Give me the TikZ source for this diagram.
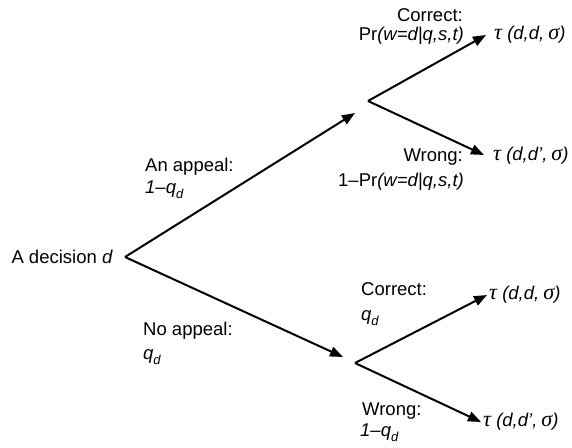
\documentclass[tikz,border=0pt]{standalone}
\usepackage{fontspec}
\setmainfont{Liberation Sans}
\newfontfamily\grk{Liberation Serif}[Scale=1.2]
\usetikzlibrary{arrows.meta}
\newcommand{\sub}[1]{\raisebox{-5pt}{\fontsize{13}{13}\selectfont\itshape #1}}
\newcommand{\tlab}[1]{\textit{{\grk\itshape τ} (d,#1,\hspace{4pt}{\grk\itshape σ})}}
\tikzset{
  arr/.style={line width=2pt, -{Triangle[length=13pt,width=10pt]}},
  lab/.style={inner sep=0pt, font=\fontsize{18.5}{21}\selectfont},
}
\begin{document}
\begin{tikzpicture}[x=1pt,y=-1pt]
\useasboundingbox (0,0) rectangle (572,447);
% vertices and tips
\coordinate (r) at (125,257);
\coordinate (tA) at (355,113);
\coordinate (vA) at (368,101);
\coordinate (tB) at (343,357);
\coordinate (vB) at (355,363);
\coordinate (tAA) at (486,35);
\coordinate (tAB) at (484,155);
\coordinate (tBA) at (487,295);
\coordinate (tBB) at (481,422);
% root node
\node[lab, anchor=base east] (root) at (113,263) {A decision \textit{d}};
% outcome nodes
\node[lab, anchor=west] (oAA) at (494,35) {\tlab{d}};
\node[lab, anchor=west] (oAB) at (493,156) {\tlab{d'}};
\node[lab, anchor=west] (oBA) at (489,295) {\tlab{d}};
\node[lab, anchor=west] (oBB) at (483,422) {\tlab{d'}};
% connectors
\draw[arr] (r) -- (tA);
\draw[arr] (r) -- (tB);
\draw[arr] (vA) -- (tAA);
\draw[arr] (vA) -- (tAB);
\draw[arr] (vB) -- (tBA);
\draw[arr] (vB) -- (tBB);
% labels
\node[lab, anchor=base east] (lc1) at (463,21) {Correct:};
\node[lab, anchor=base east] (lc2) at (464,40) {Pr\textit{(w=d|q,s,t)}};
\node[lab, anchor=base east] (lw1) at (463,161) {Wrong:};
\node[lab, anchor=base east] (lw2) at (464,186) {1–Pr\textit{(w=d|q,s,t)}};
\node[lab, anchor=base west] (la1) at (145,171) {An appeal:};
\node[lab, anchor=base west] (la2) at (145,193) {\textit{1–q}\sub{d}};
\node[lab, anchor=base west] (ln1) at (143,335) {No appeal:};
\node[lab, anchor=base west] (ln2) at (143,359) {\textit{q}\sub{d}};
\node[lab, anchor=base west] (lbc1) at (361,295) {Correct:};
\node[lab, anchor=base west] (lbc2) at (361,320) {\textit{q}\sub{d}};
\node[lab, anchor=base west] (lbw1) at (362,415) {Wrong:};
\node[lab, anchor=base west] (lbw2) at (360,436) {\textit{1–q}\sub{d}};
\end{tikzpicture}
\end{document}
